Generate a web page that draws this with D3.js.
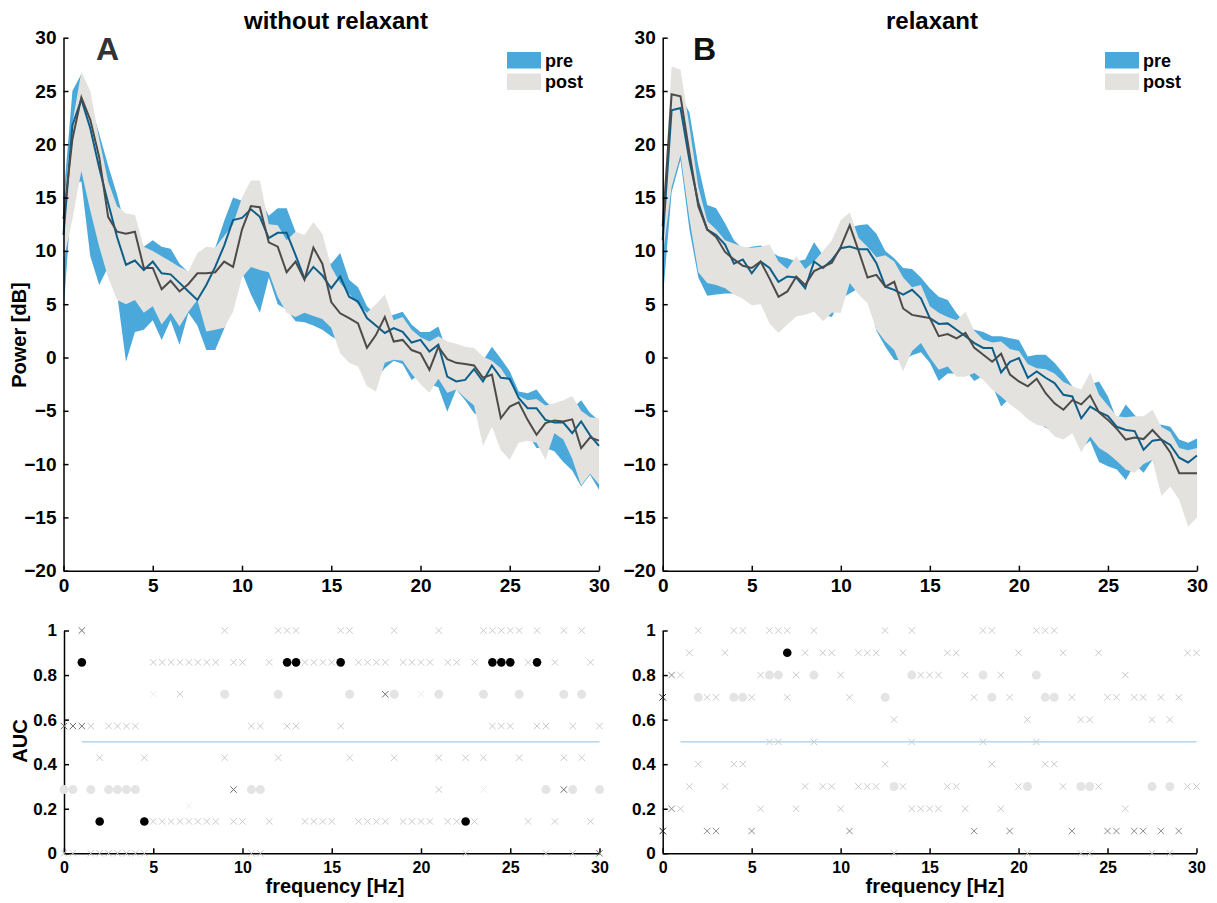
<!DOCTYPE html>
<html>
<head>
<meta charset="utf-8">
<script src="https://cdn.jsdelivr.net/npm/d3@7"></script>
<style>
  body { margin: 0; background: #fff; }
  svg text { font-family: "Liberation Sans", Arial, sans-serif; font-weight: bold; }
</style>
</head>
<body>
<svg id="chart" width="1217" height="903"></svg>
<script>
// frequency grid (Hz)
const freqs = [0,0.5,1,1.5,2,2.5,3,3.5,4,4.5,5,5.5,6,6.5,7,7.5,8,8.5,9,9.5,10,10.5,11,11.5,12,12.5,13,13.5,14,14.5,15,
  15.5,16,16.5,17,17.5,18,18.5,19,19.5,20,20.5,21,21.5,22,22.5,23,23.5,24,24.5,25,25.5,26,26.5,27,27.5,28,28.5,29,29.5,30]

// panel A (without relaxant), power in dB
const preA = [11.5,21.8,24.2,21.5,17.8,14.5,11.3,8.7,9.1,8.2,9.0,7.9,7.8,7.0,6.2,5.4,6.8,8.5,10.5,12.9,13.1,13.9,13.2,11.2,11.7,11.7,9.6,7.4,8.5,7.7,6.5,
  7.6,5.7,5.25,3.7,3.0,2.3,2.75,2.4,1.4,1.65,0.55,1.2,-1.8,-2.25,-2.1,-1.1,-2.25,-0.75,-1.9,-2.0,-3.8,-4.75,-4.75,-5.85,-6.1,-6.1,-7.1,-6.0,-7.3,-8.3]
const preALo = [4.2,16.3,16.5,9.5,6.8,8.5,6.0,-0.4,2.4,2.6,3.5,1.65,3.5,1.2,4.2,3.0,0.7,0.7,2.7,5.0,8.0,5.9,4.2,7.5,5.0,4.5,3.4,3.3,3.0,2.6,2.0,
  1.5,1.0,0.0,-1.0,-2.0,-1.0,-0.3,-0.6,-2.1,-1.5,-2.5,-2.8,-5.1,-3.0,-4.0,-5.2,-5.8,-5.2,-7.0,-7.5,-7.0,-7.2,-8.5,-8.5,-8.8,-9.8,-10.6,-12.1,-11.0,-12.4]
const preAHi = [15,25,26.6,23.8,21,18,15.3,12.0,11.3,10.4,11.0,10.4,10.2,8.8,8.0,7.6,8.8,10.3,12.8,15.0,14.7,16.3,15.0,13.3,14.0,14.0,11.8,9.5,9.8,9.2,8.8,
  9.8,7.3,6.6,4.8,4.0,3.8,4.0,4.3,3.1,2.4,2.4,2.9,0.5,0.2,0.0,-0.2,-0.3,1.0,-0.1,-1.3,-3.2,-3.35,-3.0,-4.1,-4.8,-4.8,-4.8,-4.0,-5.2,-5.9]
const postA = [13,20.5,24.4,22.3,18.8,13.2,11.8,11.6,11.8,8.4,8.4,6.4,7.2,6.2,6.9,7.9,7.9,8.0,9.0,8.5,12.0,14.2,14.1,10.8,10.4,8.0,9.0,7.3,10.3,8.8,5.2,
  4.15,3.7,3.2,0.9,2.1,3.8,1.5,1.65,0.7,0.4,-1.15,1.0,-0.15,-0.5,-0.6,-0.75,-1.9,-1.6,-5.7,-4.6,-4.2,-5.85,-7.25,-6.15,-5.9,-6.0,-5.8,-8.5,-7.5,-7.8]
const postALo = [9,13,17.5,13.8,10.4,7.5,5.4,5.0,5.4,4.2,4.8,3.1,4.2,2.9,4.3,5.4,2.45,2.6,2.8,4.3,7.5,8.5,8.2,8.0,5.7,4.2,3.8,4.2,3.9,3.6,2.8,
  0.4,-0.5,-0.85,-2.7,-3.2,-0.5,-0.2,-0.3,-1.5,-2.5,-3.3,-2.0,-3.3,-3.0,-3.8,-4.5,-8.3,-6.5,-8.7,-9.6,-8.0,-7.8,-8.0,-9.6,-7.1,-7.7,-9.5,-12.0,-10.9,-11.9]
const postAHi = [14,22,26.8,25,20.5,16.5,14.2,13.5,13.4,10.4,10.0,9.5,9.0,8.5,8.1,9.8,10.4,10.3,11.4,12.5,15.0,16.6,16.6,12.5,12.4,11.0,11.8,11.5,12.7,11.6,8.5,
  7.0,6.0,5.0,4.2,5.0,5.9,3.5,3.8,2.6,1.9,1.5,2.0,1.5,1.3,1.0,0.9,0.1,-0.3,-1.0,-2.3,-3.6,-4.0,-3.9,-4.5,-4.3,-4.0,-3.6,-5.0,-5.6,-5.7]

// panel B (relaxant), power in dB
const preB = [11,23.2,23.4,18.5,14.5,12.0,11.5,10.6,8.8,9.2,7.9,9.0,8.4,7.1,7.6,7.5,6.5,9.0,8.4,9.15,10.25,10.4,10.15,10.15,8.85,6.65,6.35,5.9,6.35,5.55,3.7,
  3.15,3.2,2.6,2.0,1.35,0.9,0.9,-1.4,-0.4,-0.06,-1.9,-1.3,-1.9,-2.4,-3.5,-3.65,-5.7,-4.6,-5.1,-5.5,-6.5,-6.8,-6.9,-8.65,-7.8,-7.7,-8.2,-9.4,-9.85,-9.2]
const preBLo = [5.4,15.5,18.5,12,7.5,5.8,5.9,6.0,6.0,6.0,5.5,5.5,4.5,3.5,3.8,4.5,4.8,5.0,4.0,3.8,5.5,6.0,6.5,6.0,2.5,1.0,-0.2,-0.3,0.2,0.5,-0.5,
  -2.2,-1.5,-1.5,-1.2,-2.2,-1.7,-2.6,-4.6,-3.8,-4.5,-5.3,-6.0,-6.6,-7.0,-7.4,-7.0,-8.5,-7.8,-9.8,-10.2,-10.5,-11.5,-10.0,-10.8,-9.6,-12.0,-11.5,-12.5,-12.5,-12.5]
const preBHi = [12,24,24.5,23,18,14.3,14.0,12.6,11.0,10.2,10.4,10.5,10.0,9.5,9.3,9.0,9.2,10.8,9.6,10.2,11.0,12.2,12.4,12.5,11.6,10.0,9.3,8.4,8.3,7.5,6.5,
  5.7,5.4,4.15,3.2,2.6,2.4,2.0,2.0,1.8,1.65,0.1,0.25,0.25,-0.5,-1.5,-2.7,-3.5,-2.5,-2.25,-3.65,-5.85,-4.4,-5.4,-6.2,-6.2,-6.3,-6.5,-7.7,-8.0,-7.6]
const postB = [12.3,24.7,24.5,19.2,14.2,12.0,11.3,9.9,9.2,8.6,8.4,9.0,7.4,5.7,6.2,7.6,6.8,8.1,8.5,8.9,10.4,12.4,10.0,7.5,7.75,6.65,7.1,4.6,4.0,3.85,3.7,
  2.0,2.2,1.8,2.3,0.9,0.25,-0.4,0.35,-1.6,-2.25,-2.7,-2.0,-3.35,-4.3,-4.9,-4.0,-4.4,-3.55,-5.15,-5.85,-6.7,-7.7,-7.5,-7.65,-6.8,-7.7,-8.9,-10.85,-10.85,-10.85]
const postBLo = [9.5,16,19,13,8.0,7.0,6.8,6.5,5.9,5.5,4.9,5.0,3.2,2.3,3.1,3.85,4.0,4.3,3.4,4.2,4.2,7.0,5.9,5.1,2.6,1.5,0.7,-1.3,0.6,1.35,0.0,
  -1.15,-0.85,-1.8,-1.8,-1.45,-2.1,-3.0,-3.65,-4.4,-5.0,-5.8,-6.3,-6.5,-7.4,-7.7,-7.1,-8.9,-7.4,-8.5,-9.0,-9.7,-10.5,-10.8,-10.0,-9.6,-13.0,-12.1,-13.35,-15.85,-15.0]
const postBHi = [13,27.3,27.0,21.7,16.0,12.8,12.0,11.0,10.7,10.4,10.3,10.4,10.6,9.0,8.3,9.5,8.3,9.0,10.0,11.0,12.9,13.6,11.2,10.4,9.4,9.6,9.0,7.5,6.6,6.8,4.8,
  4.2,3.8,3.5,4.3,2.5,1.7,1.4,1.5,0.8,0.6,-0.6,-1.0,-1.1,-1.5,-2.3,-2.7,-3.0,-1.4,-3.5,-4.5,-5.5,-5.6,-5.5,-5.5,-4.9,-6.5,-7.0,-8.5,-8.7,-8.5]

// AUC markers per frequency: rows of [AUC, [frequencies]]
const crossA = [
  [1, [9,12,12.5,13,15.5,16,18.5,21,23.5,24,24.5,25,25.5,26.5,28,29]],
  [0.857, [5,5.5,6,6.5,7,7.5,8,8.5,9.5,10,11.5,13.5,14,14.5,15,16.5,17,17.5,18,19,19.5,20,20.5,21.5,22,23,26,27.5,29.5]],
  [0.714, [6.5]],
  [0.571, [1.5,2.5,3,3.5,4,10.5,11,12.5,13,15.5,24,24.5,25,26.5,27,28.5,30]],
  [0.429, [2,4.5,9,12,16,18.5,21,22.5,23.5,25.5,28,29]],
  [0.286, [21]],
  [0.143, [5,5.5,6,6.5,7,7.5,8,8.5,9.5,10,11.5,13.5,14,14.5,15,16.5,17,17.5,18,19,19.5,20,20.5,21.5,22,23,26,27.5,29.5]],
  [0, [0,0.5,1.5,2,2.5,3,3.5,4,4.5,10.5,11,22.5,27,28.5]]
]
const crossFaintA = [[0.714, [5,20]], [0.214, [7]], [0.286, [23.5]]]
const crossDarkA = [[1, [1]], [0.571, [0,0.5,1]], [0.714, [18]], [0.286, [9.5,28]], [0, [30]]]
const dotLightA = [
  [0.714, [9,12,16,18.5,21,23.5,25.5,28,29]],
  [0.286, [0,0.5,1.5,2.5,3,3.5,4,10.5,11,27,28.5,30]]
]
const dotSigA = [[0.857, [1,12.5,13,15.5,24,24.5,25,26.5]], [0.143, [2,4.5,22.5]]]

const crossB = [
  [1, [2,4,4.5,6,6.5,7,8.5,12.5,14,18,18.5,21,21.5,22]],
  [0.9, [1.5,3.5,8,9,9.5,11,11.5,12,13.5,16,16.5,20,22.5,24.5,29.5,30]],
  [0.8, [1,5.5,7.5,10,14.5,15,15.5,17,19,26]],
  [0.7, [2.5,3,5,7,10.5,17.5,19.5,23,25,25.5,26.5,27,28,29]],
  [0.6, [13,20.5,23.5,24,27.5,28.5]],
  [0.5, [6,6.5,8.5,14,18,21]],
  [0.4, [2,4,4.5,12.5,18.5,21.5,22]],
  [0.3, [1.5,3.5,8,9,9.5,11,11.5,12,13.5,16,16.5,20,22.5,24.5,29.5,30]],
  [0.2, [1,5.5,7.5,10,14,14.5,15,15.5,17,19,26]],
  [0, [13,20.5,23.5,24,27.5,28.5]]
]
const crossMidB = [[0.1, [2.5,3,5,10.5,17.5,19.5,23,25,25.5,26.5,27,28,29]], [0.8, [0.5]], [0.2, [0.5]]]
const crossDarkB = [[0.7, [0]], [0.1, [0]]]
const dotLightB = [
  [0.8, [6,6.5,8.5,14,18,21]],
  [0.7, [2,4,4.5,12.5,18.5,21.5,22]],
  [0.3, [13,20.5,23.5,24,27.5,28.5]]
]
const dotSigB = [[0.9, [7]]]

const yTicksPower = [-20,-15,-10,-5,0,5,10,15,20,25,30]
const xTicks = [0,5,10,15,20,25,30]
const yTicksAuc = [0,0.2,0.4,0.6,0.8,1]

const colPreBand = "#4aa9da", colPostBand = "#e3e2de"
const colPreLine = "#0d5f89", colPostLine = "#4b4b4b"

const svg = d3.select("#chart")

const yPow = d3.scaleLinear().domain([-20, 30]).range([570.7, 37.7])
const yAuc = d3.scaleLinear().domain([0, 1]).range([853.3, 630.5])

function styleAxis(g) {
  g.select(".domain").attr("stroke", "#000").attr("stroke-width", 1.5)
  g.selectAll(".tick line").attr("stroke", "#000").attr("stroke-width", 1.5)
  g.selectAll("text").attr("fill", "#000").attr("font-family", null)
}

function drawSpectrum(x, pre, preLo, preHi, post, postLo, postHi) {
  const area = (lo, hi) => d3.area()
    .x((d, i) => x(freqs[i]))
    .y0((d, i) => yPow(lo[i]))
    .y1((d, i) => yPow(hi[i]))
  const line = d3.line().x((d, i) => x(freqs[i])).y(d => yPow(d))

  svg.append("path").datum(freqs).attr("d", area(preLo, preHi)).attr("fill", colPreBand)
  svg.append("path").datum(freqs).attr("d", area(postLo, postHi)).attr("fill", colPostBand)
  svg.append("path").datum(pre).attr("d", line).attr("fill", "none")
    .attr("stroke", colPreLine).attr("stroke-width", 2)
  svg.append("path").datum(post).attr("d", line).attr("fill", "none")
    .attr("stroke", colPostLine).attr("stroke-width", 2)

  svg.append("g")
    .attr("transform", "translate(0," + yPow(-20) + ")")
    .call(d3.axisBottom(x).tickValues(xTicks).tickSizeInner(-5).tickSizeOuter(0).tickPadding(8))
    .call(styleAxis)
    .selectAll("text").attr("font-size", 19)

  svg.append("g")
    .attr("transform", "translate(" + x(0) + ",0)")
    .call(d3.axisLeft(yPow).tickValues(yTicksPower).tickSizeInner(-5).tickSizeOuter(0).tickPadding(7))
    .call(styleAxis)
    .selectAll("text").attr("font-size", 19)
}

function drawAuc(x, cross, crossLight2, crossDark, dotLight, dotSig, darkCol, light2Col) {
  svg.append("line")
    .attr("x1", x(1)).attr("x2", x(30))
    .attr("y1", yAuc(0.5)).attr("y2", yAuc(0.5))
    .attr("stroke", "#a5cde8").attr("stroke-width", 1.2)

  svg.append("g")
    .attr("transform", "translate(0," + yAuc(0) + ")")
    .call(d3.axisBottom(x).tickValues(xTicks).tickSizeInner(-5).tickSizeOuter(0).tickPadding(8))
    .call(styleAxis)
    .selectAll("text").attr("font-size", 16)

  svg.append("g")
    .attr("transform", "translate(" + x(0) + ",0)")
    .call(d3.axisLeft(yAuc).tickValues(yTicksAuc).tickFormat(d3.format("~g"))
      .tickSizeInner(-5).tickSizeOuter(0).tickPadding(7))
    .call(styleAxis)
    .selectAll("text").attr("font-size", 17)

  const flat = rows => rows.flatMap(([a, fs]) => fs.map(f => [f, a]))
  const crossPath = "M-3.2,-3.2L3.2,3.2M-3.2,3.2L3.2,-3.2"

  const drawCross = (rows, col) => svg.append("g").selectAll("path")
    .data(flat(rows)).join("path")
    .attr("d", crossPath)
    .attr("transform", d => "translate(" + x(d[0]) + "," + yAuc(d[1]) + ")")
    .attr("stroke", col).attr("stroke-width", 1).attr("fill", "none")
  const drawDot = (rows, col, r) => svg.append("g").selectAll("circle")
    .data(flat(rows)).join("circle")
    .attr("cx", d => x(d[0])).attr("cy", d => yAuc(d[1]))
    .attr("r", r).attr("fill", col)

  drawCross(cross, "#cacaca")
  drawCross(crossLight2, light2Col)
  drawDot(dotLight, "#e4e4e4", 4.5)
  drawCross(crossDark, darkCol)
  drawDot(dotSig, "#000", 4.3)
}

const xA = d3.scaleLinear().domain([0, 30]).range([63.5, 599])
const xB = d3.scaleLinear().domain([0, 30]).range([662.7, 1197])
const xAucA = d3.scaleLinear().domain([0, 30]).range([64, 599.5])
const xAucB = d3.scaleLinear().domain([0, 30]).range([662.7, 1196.5])

drawSpectrum(xA, preA, preALo, preAHi, postA, postALo, postAHi)
drawSpectrum(xB, preB, preBLo, preBHi, postB, postBLo, postBHi)
drawAuc(xAucA, crossA, crossFaintA, crossDarkA, dotLightA, dotSigA, "#6e6e6e", "#ededed")
drawAuc(xAucB, crossB, crossMidB, crossDarkB, dotLightB, dotSigB, "#1a1a1a", "#8c8c8c")

// titles, panel letters
svg.append("text").attr("x", 336).attr("y", 29).attr("text-anchor", "middle")
  .attr("font-size", 24).text("without relaxant")
svg.append("text").attr("x", 932).attr("y", 29).attr("text-anchor", "middle")
  .attr("font-size", 24).text("relaxant")
svg.append("text").attr("x", 96).attr("y", 60).attr("font-size", 32).attr("fill", "#333").text("A")
svg.append("text").attr("x", 693).attr("y", 60).attr("font-size", 32).attr("fill", "#111").text("B")

// legends
const legendItems = [["pre", colPreBand], ["post", colPostBand]]
;[[507, 52], [1105, 52]].forEach(([lx, ly]) => {
  legendItems.forEach(([name, col], i) => {
    svg.append("rect").attr("x", lx).attr("y", ly + i * 21.5).attr("width", 34).attr("height", 16.5).attr("fill", col)
    svg.append("text").attr("x", lx + 38).attr("y", ly + i * 21.5 + 14.5).attr("font-size", 18).text(name)
  })
})

// axis labels
svg.append("text").attr("transform", "translate(26,335) rotate(-90)")
  .attr("text-anchor", "middle").attr("font-size", 20).text("Power [dB]")
svg.append("text").attr("transform", "translate(27,741) rotate(-90)")
  .attr("text-anchor", "middle").attr("font-size", 20).text("AUC")
svg.append("text").attr("x", 335).attr("y", 893).attr("text-anchor", "middle")
  .attr("font-size", 20).text("frequency [Hz]")
svg.append("text").attr("x", 935).attr("y", 893).attr("text-anchor", "middle")
  .attr("font-size", 20).text("frequency [Hz]")
</script>
</body>
</html>
